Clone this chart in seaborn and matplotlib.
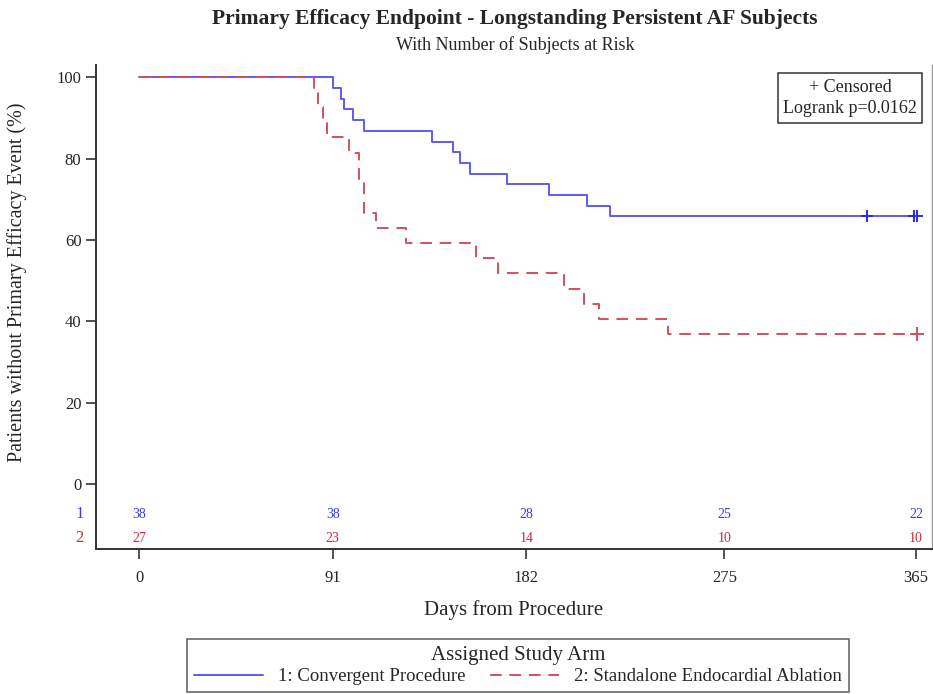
import numpy as np
import pandas as pd
import matplotlib
matplotlib.use("Agg")
import matplotlib.pyplot as plt
import seaborn as sns
from matplotlib.lines import Line2D

# Kaplan-Meier step points (day, % event-free)
days_conv = [0, 91, 94.9, 96.4, 100.4, 105.5, 137.5, 147.3, 150.9, 155.6, 172.7, 192.4, 210.4, 221.4, 367]
surv_conv = [100, 97.4, 94.7, 92.1, 89.5, 86.8, 84.2, 81.6, 78.9, 76.3, 73.7, 71.1, 68.4, 65.8, 65.8]
cens_conv_days = [342, 364, 365.5]

days_endo = [0, 82, 83.9, 86.3, 88.2, 98.8, 103.5, 105.5, 111.3, 125.4, 158.3, 168.5, 199.5, 209.2, 216.2, 248.3, 367]
surv_endo = [100, 96.3, 92.6, 88.9, 85.2, 81.5, 74.1, 66.7, 63.0, 59.3, 55.6, 51.9, 48.1, 44.4, 40.7, 37.0, 37.0]
cens_endo_days = [365.4]

risk_days = [0, 91, 182, 275, 365]
risk_conv = [38, 38, 28, 25, 22]
risk_endo = [27, 23, 14, 10, 10]

arm_labels = ["1: Convergent Procedure", "2: Standalone Endocardial Ablation"]
blue = "#5c5cf5"
red = "#d4505e"
blue_txt = "#3a3af0"
red_txt = "#cc2a3c"
dash = (0, (6, 4))

sns.set_style("ticks")
plt.rcParams["font.family"] = ["Liberation Serif", "DejaVu Serif"]

fig = plt.figure(figsize=(9.33, 6.94), dpi=100)
ax = fig.add_axes([0.1029, 0.2089, 0.896, 0.6974])

df_conv = pd.DataFrame({"day": days_conv, "surv": surv_conv})
df_endo = pd.DataFrame({"day": days_endo, "surv": surv_endo})
sns.lineplot(data=df_conv, x="day", y="surv", drawstyle="steps-post", color=blue,
             lw=1.4, estimator=None, ax=ax)
sns.lineplot(data=df_endo, x="day", y="surv", drawstyle="steps-post", color=red,
             lw=1.4, ls=dash, estimator=None, ax=ax)

# censored marks sit on the final level of each curve
sns.scatterplot(x=cens_conv_days, y=[surv_conv[-1]] * len(cens_conv_days), marker="+",
                s=70, color="#2a2af0", linewidth=1.4, ax=ax, zorder=5)
sns.scatterplot(x=cens_endo_days, y=[surv_endo[-1]] * len(cens_endo_days), marker="+",
                s=100, color=red, linewidth=1.4, ax=ax, zorder=5)

ax.set_xlim(-20.2, 372.5)
ax.set_ylim(-15.9, 103.0)
ax.set_xticks(risk_days)
ax.set_yticks([0, 20, 40, 60, 80, 100])
ax.tick_params(axis="both", labelsize=12, length=7, width=1.2, color="#333333")
ax.tick_params(axis="x", pad=8)
for s in ["left", "bottom"]:
    ax.spines[s].set_linewidth(1.4)
    ax.spines[s].set_color("#333333")
ax.spines["top"].set_visible(False)
ax.spines["right"].set_color("#999999")
ax.spines["right"].set_linewidth(1.0)

# numbers at risk inside the plot, below zero
for d, a, b in zip(risk_days, risk_conv, risk_endo):
    ax.text(d, -7.3, str(a), color=blue_txt, fontsize=10, ha="center", va="center")
    ax.text(d, -13.2, str(b), color=red_txt, fontsize=10, ha="center", va="center")
ax.text(-28, -7.3, "1", color=blue_txt, fontsize=12, ha="center", va="center", clip_on=False)
ax.text(-28, -13.2, "2", color=red_txt, fontsize=12, ha="center", va="center", clip_on=False)

ax.set_xlabel("Days from Procedure", fontsize=15)
ax.xaxis.set_label_coords(0.5, -0.106)
ax.set_ylabel("Patients without Primary Efficacy Event (%)", fontsize=14.5)
ax.yaxis.set_label_coords(-0.082, 0.552)

fig.text(0.552, 0.972, "Primary Efficacy Endpoint - Longstanding Persistent AF Subjects",
         ha="center", va="center", fontsize=15.5, fontweight="bold")
fig.text(0.552, 0.935, "With Number of Subjects at Risk", ha="center", va="center", fontsize=13)

ax.text(0.982, 0.972, "+ Censored\nLogrank p=0.0162", transform=ax.transAxes, ha="right",
        va="top", fontsize=13, linespacing=1.35, multialignment="center",
        bbox=dict(boxstyle="square,pad=0.3", fc="white", ec="#333333", lw=1.1))

handles = [Line2D([0], [0], color=blue, lw=1.4),
           Line2D([0], [0], color=red, lw=1.4, ls=dash)]
leg = fig.legend(handles, arm_labels, loc="center", bbox_to_anchor=(0.555, 0.041), ncol=2,
                 title="Assigned Study Arm", fontsize=13.5, title_fontsize=15, frameon=True,
                 fancybox=False, edgecolor="#333333", handlelength=3.7, columnspacing=1.3,
                 borderpad=0.35, handletextpad=0.8, labelspacing=0.2)
leg.get_frame().set_linewidth(1.1)

fig.savefig("out.png", dpi=100)
